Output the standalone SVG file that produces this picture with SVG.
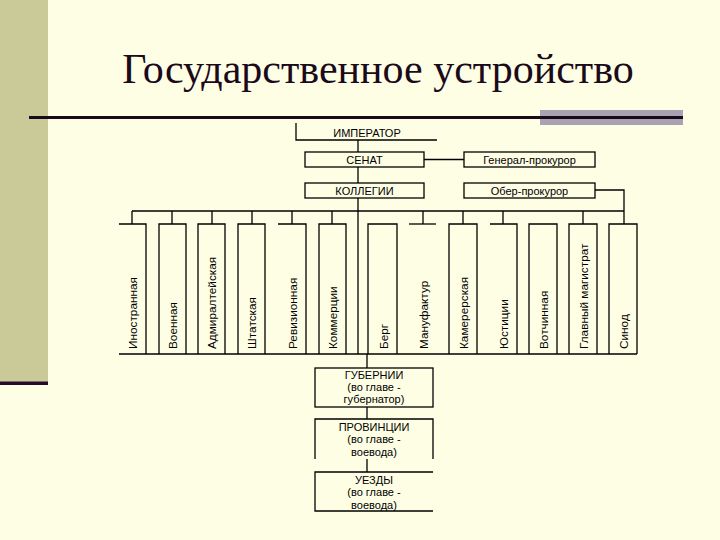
<svg xmlns="http://www.w3.org/2000/svg" width="720" height="540" viewBox="0 0 720 540">
<style>
.ln{stroke:#000;stroke-width:1.3;fill:none}
.bx{stroke:#000;stroke-width:1.3;fill:none}
.t{font-family:"Liberation Sans",Arial,sans-serif;font-size:11px;fill:#000;text-anchor:middle}
.v{font-family:"Liberation Sans",Arial,sans-serif;font-size:11.8px;fill:#000;text-anchor:start}
.title{font-family:"Liberation Serif","Times New Roman",serif;font-size:42px;fill:#1a0a1a;text-anchor:middle}
</style>
<rect x="0" y="0" width="720" height="540" fill="#FEFEE5"/>
<rect x="0" y="0" width="48" height="382" fill="#CACA98"/>
<rect x="0" y="381.5" width="48" height="3.5" fill="#2a0a2a"/>
<rect x="540" y="110" width="143" height="15" fill="#A8A2B2"/>
<line x1="29" y1="117.5" x2="683" y2="117.5" stroke="#1a0a1a" stroke-width="3"/>
<text class="title" x="378" y="83">Государственное устройство</text>

<g id="connectors">
<path class="ln" d="M358 140 V152 M358 167 V183 M424 159.5 H464 M595 190 H624 V224 M358 198 V354 M132 211 H624 M132 211 V224 M172 211 V224 M212 211 V224 M252 211 V224 M292 211 V224 M332 211 V224 M423 211 V224 M463 211 V224 M503 211 V224 M583 211 V224 M367 354 V368 M367 407 V419 M367 459 V472"/>
<line class="ln" x1="119" y1="354" x2="637" y2="354"/>
</g>

<g id="imperator"><path class="bx" d="M296 123 V140 H437"/><text class="t" x="367" y="136.5">ИМПЕРАТОР</text></g>
<g id="senat"><rect class="bx" x="305" y="152" width="119" height="15"/><text class="t" x="364.5" y="164">СЕНАТ</text></g>
<g id="genprok"><rect class="bx" x="464" y="152" width="131" height="15"/><text class="t" x="529.5" y="164">Генерал-прокурор</text></g>
<g id="kollegii"><rect class="bx" x="305" y="183" width="119" height="15"/><text class="t" x="364.5" y="195">КОЛЛЕГИИ</text></g>
<g id="oberprok"><rect class="bx" x="464" y="183" width="131" height="15"/><text class="t" x="529.5" y="195">Обер-прокурор</text></g>

<g id="c1"><path class="bx" d="M119 224 H146 V354"/><text class="v" transform="translate(136.5,349) rotate(-90)">Иностранная</text></g>
<g id="c2"><path class="bx" d="M159 354 V224 H186 V354"/><text class="v" transform="translate(177,349) rotate(-90)">Военная</text></g>
<g id="c3"><path class="bx" d="M198 354 V224 H225 V354"/><text class="v" transform="translate(216,349) rotate(-90)">Адмиралтейская</text></g>
<g id="c4"><path class="bx" d="M238 354 V224 H265 V354"/><text class="v" transform="translate(256,349) rotate(-90)">Штатская</text></g>
<g id="c5"><path class="bx" d="M278 224 H306 V354"/><text class="v" transform="translate(296.5,349) rotate(-90)">Ревизионная</text></g>
<g id="c6"><path class="bx" d="M319 354 V224 H346 V354"/><text class="v" transform="translate(337,349) rotate(-90)">Коммерции</text></g>
<g id="c7"><path class="bx" d="M368 354 V224 H397 V354"/><text class="v" transform="translate(388,349) rotate(-90)">Берг</text></g>
<g id="c8"><path class="bx" d="M409 224 H436"/><text class="v" transform="translate(427.5,349) rotate(-90)">Мануфактур</text></g>
<g id="c9"><path class="bx" d="M449 354 V224 H477 V354"/><text class="v" transform="translate(467.5,349) rotate(-90)">Камерерская</text></g>
<g id="c10"><path class="bx" d="M490 224 H517 V354"/><text class="v" transform="translate(508,349) rotate(-90)">Юстиции</text></g>
<g id="c11"><path class="bx" d="M529 354 V224 H557 V354"/><text class="v" transform="translate(547.5,349) rotate(-90)">Вотчинная</text></g>
<g id="c12"><path class="bx" d="M569 354 V224 H597 V354"/><text class="v" transform="translate(587.5,349) rotate(-90)">Главный магистрат</text></g>
<g id="c13"><path class="bx" d="M609 354 V224 H637 V354"/><text class="v" transform="translate(627.5,349) rotate(-90)">Синод</text></g>

<g id="gubernii"><rect class="bx" x="315" y="368" width="118" height="39"/><text class="t" x="374" y="378.5">ГУБЕРНИИ</text><text class="t" x="374" y="391">(во главе -</text><text class="t" x="374" y="403">губернатор)</text></g>
<g id="provincii"><path class="bx" d="M315 459 V419 H433 V459"/><text class="t" x="374" y="430.5">ПРОВИНЦИИ</text><text class="t" x="374" y="443">(во главе -</text><text class="t" x="374" y="455.5">воевода)</text></g>
<g id="uezdy"><path class="bx" d="M433 472 H315 V511 H433"/><text class="t" x="374" y="483.5">УЕЗДЫ</text><text class="t" x="374" y="496">(во главе -</text><text class="t" x="374" y="508.5">воевода)</text></g>
</svg>
